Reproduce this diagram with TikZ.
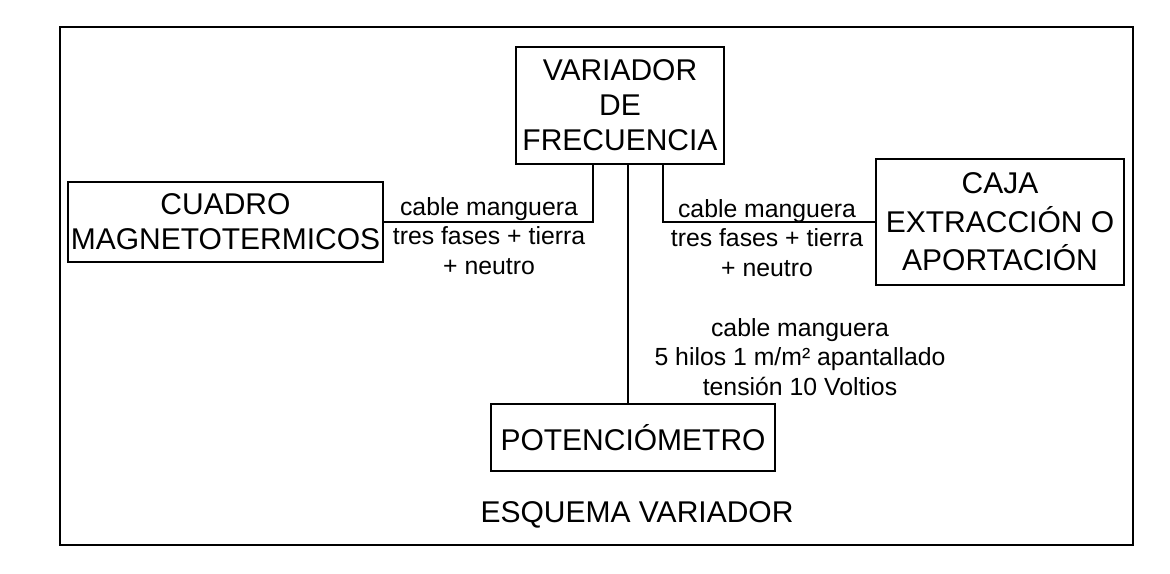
\documentclass[tikz,border=0pt]{standalone}
\usepackage{fontspec}
\setmainfont{Liberation Sans}
\usetikzlibrary{calc}
\tikzstyle{bloque} = [rectangle, draw=black, line width=1.4pt, inner sep=0pt, align=center, font=\fontsize{30}{35}\selectfont]
\tikzstyle{nota} = [align=center, inner sep=0pt, font=\fontsize{24.8}{29.5}\selectfont]
\tikzstyle{cable} = [draw=black, line width=1.4pt]

\begin{document}
\begin{tikzpicture}[x=1pt,y=-1pt]
        \useasboundingbox (0,0) rectangle (1170,573);

        %% marco
        \draw[line width=1.4pt] (60,27) rectangle (1133,545);

        %% bloques
        \node (VAR) [bloque, minimum width=208pt, minimum height=117pt] at (620,105.5) {VARIADOR\\DE\\FRECUENCIA};
        \node (CUA) [bloque, minimum width=315pt, minimum height=80pt] at (225.5,222) {CUADRO\\MAGNETOTERMICOS};
        \node (CAJ) [bloque, minimum width=248pt, minimum height=126pt, font=\fontsize{30}{38.5}\selectfont] at (1000,222) {CAJA\\EXTRACCIÓN O\\APORTACIÓN};
        \node (POT) [bloque, minimum width=284pt, minimum height=67pt] at (633,437.5) {POTENCIÓMETRO};

        %% cables
        \draw[cable] ([xshift=-27pt]VAR.south) |- (CUA.east);
        \draw[cable] ([xshift=43pt]VAR.south) |- (CAJ.west);
        \draw[cable] ([xshift=8pt]VAR.south) -- ([xshift=8pt]VAR.south |- POT.north);

        %% notas
        \node (N1) [nota] at (489,236) {cable manguera\\tres fases + tierra\\+ neutro};
        \node (N2) [nota] at (767,238) {cable manguera\\tres fases + tierra\\+ neutro};
        \node (N3) [nota] at (800,357) {cable manguera\\5 hilos 1 m/m² apantallado\\tensión 10 Voltios};
        \node (TIT) [font=\fontsize{30}{35}\selectfont] at (637,515) {ESQUEMA VARIADOR};

\end{tikzpicture}
\end{document}
